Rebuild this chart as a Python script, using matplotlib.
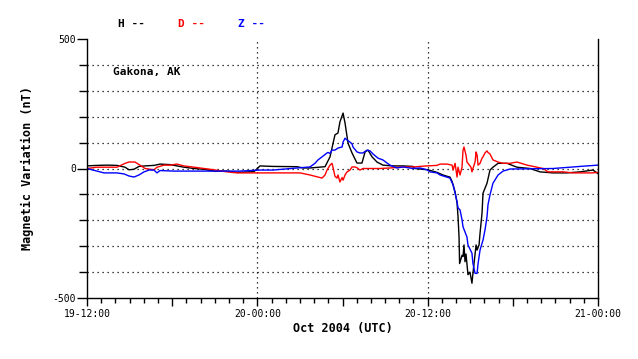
import matplotlib
matplotlib.use("Agg")
import matplotlib.pyplot as plt
from matplotlib.ticker import MultipleLocator

# hours since Oct 19 12:00 UTC, values in nT
h_time = [0, 0.70, 1.41, 2.11, 2.68, 2.96, 3.31, 3.66, 4.09, 4.72, 5.14, 5.85, 6.83, 7.54,
          8.24, 8.95, 9.86, 10.57, 11.77, 12.19, 13.10, 14.80, 15.22, 15.71, 16.77, 17.12,
          17.47, 17.68, 17.82, 18.04, 18.18, 18.39, 18.67, 19.02, 19.37, 19.59, 19.80, 20.08,
          20.43, 20.85, 21.50, 22.26, 22.97, 23.10, 23.46, 24.02, 24.66, 25.08, 25.36, 25.57,
          25.72, 25.93, 26.07, 26.14, 26.21, 26.25, 26.42, 26.49, 26.56, 26.63, 26.70, 26.84,
          26.98, 27.12, 27.19, 27.30, 27.41, 27.48, 27.62, 27.69, 27.83, 27.90, 28.18, 28.39,
          28.60, 28.96, 29.59, 30.29, 31.21, 31.91, 32.83, 33.82, 34.73, 35.65, 36.0]
h_vals = [10, 12, 13, 12, 5, -5, -3, 8, 10, 12, 17, 15, 5, 0,
          -3, -10, -10, -15, -12, 10, 8, 7, 2, 2, 7, 45,
          130, 137, 180, 214, 175, 98, 60, 21, 21, 64, 71, 45,
          25, 13, 10, 10, 8, 0, -2, -5, -15, -25, -30, -33,
          -50, -90, -133, -187, -265, -367, -335, -340, -295, -360, -330, -410,
          -400, -443, -405, -350, -295, -315, -295, -250, -172, -95, -57, -6,
          5, 20, 20, 5, 0, -13, -17, -17, -13, -6, -20]

d_time = [0, 0.70, 2.11, 2.68, 2.96, 3.38, 3.73, 4.09, 4.72, 4.93, 5.42, 5.85, 6.34, 6.83,
          7.54, 8.24, 8.95, 9.86, 10.57, 11.77, 12.68, 15.01, 15.71, 16.27, 16.56, 16.77,
          16.91, 17.12, 17.26, 17.33, 17.47, 17.61, 17.68, 17.82, 17.97, 18.04, 18.18, 18.32,
          18.53, 18.67, 18.88, 19.02, 19.23, 19.44, 20.64, 21.35, 22.26, 22.97, 23.95, 24.66,
          24.87, 25.36, 25.72, 25.79, 25.93, 26.07, 26.14, 26.28, 26.42, 26.49, 26.56, 26.70,
          26.77, 27.05, 27.12, 27.19, 27.34, 27.41, 27.48, 27.55, 27.69, 27.83, 27.90, 28.04,
          28.18, 28.25, 28.39, 28.60, 28.96, 29.31, 29.80, 30.29, 31.00, 31.70, 32.13, 32.48,
          32.83, 33.54, 34.24, 34.94, 35.58, 36.0]
d_vals = [0, 5, 5, 20, 25, 25, 13, 0, -5, 5, 13, 13, 17, 10,
          5, 0, -5, -13, -17, -17, -17, -17, -25, -33, -37, -25,
          -6, 13, 20, 5, -30, -37, -25, -52, -35, -45, -25, -13,
          -6, 6, 6, 3, -6, 0, 0, 2, 6, 6, 10, 12,
          17, 17, 13, -6, 20, -33, 5, -25, 5, 70, 83, 52,
          25, 5, -13, 0, 25, 64, 52, 13, 20, 40, 45, 60,
          68, 62, 56, 33, 25, 20, 20, 25, 13, 5, 0, -13,
          -13, -13, -17, -17, -17, -15]

z_time = [0, 0.70, 1.20, 2.11, 2.61, 2.96, 3.31, 3.66, 4.02, 4.37, 4.72, 4.93, 5.14, 6.13,
          9.37, 10.78, 12.19, 13.10, 14.80, 15.71, 16.06, 16.27, 16.56, 16.91, 16.98, 17.12,
          17.26, 17.47, 17.68, 17.97, 18.04, 18.18, 18.32, 18.53, 18.67, 18.74, 19.02, 19.23,
          19.44, 19.73, 19.94, 20.15, 20.50, 20.85, 21.14, 21.35, 21.84, 22.26, 22.97, 23.46,
          23.95, 24.17, 24.66, 24.87, 25.57, 25.79, 25.93, 26.07, 26.14, 26.28, 26.42, 26.49,
          26.77, 26.84, 27.12, 27.19, 27.34, 27.48, 27.55, 27.69, 27.90, 28.04, 28.18, 28.25,
          28.39, 28.60, 28.96, 29.31, 29.80, 32.83, 34.03, 35.22, 36.0]
z_vals = [0, -10, -17, -17, -21, -29, -33, -25, -13, -6, -6, -17, -8, -10,
          -10, -10, -6, -6, 2, 6, 20, 33, 45, 60, 62, 58,
          71, 71, 79, 83, 102, 117, 110, 102, 95, 83, 64, 60,
          60, 71, 68, 56, 40, 33, 21, 13, 2, 6, 0, 2,
          -5, -13, -17, -25, -37, -63, -95, -128, -152, -160, -198, -225,
          -265, -295, -327, -367, -405, -405, -367, -315, -276, -237, -187, -140,
          -102, -57, -25, -10, -2, 0, 5, 10, 13]

tick_hours = [0, 6, 12, 18, 24, 30, 36]
tick_labels = ["19-12:00", "", "20-00:00", "", "20-12:00", "", "21-00:00"]

plt.rcParams["font.family"] = "DejaVu Sans Mono"

fig = plt.figure(figsize=(6.38, 3.59), dpi=100)
ax = fig.add_axes([87 / 638, 1 - 298 / 359, 511 / 638, 259 / 359])

ax.plot(h_time, h_vals, color="black", lw=1)
ax.plot(d_time, d_vals, color="red", lw=1)
ax.plot(z_time, z_vals, color="blue", lw=1)

ax.set_xlim(0, 36)
ax.set_ylim(-500, 500)

for yv in range(-400, 500, 100):
    ax.axhline(yv, color="black", lw=0.9, ls=(0, (1, 3)), zorder=0)
for xv in [12, 24]:
    ax.axvline(xv, color="black", lw=0.9, ls=(0, (1, 3)), zorder=0)

ax.set_xticks(tick_hours, tick_labels)
ax.xaxis.set_minor_locator(MultipleLocator(1))
ax.set_yticks([-500, 0, 500], ["-500", "0", "500"])
ax.yaxis.set_minor_locator(MultipleLocator(100))
ax.tick_params(axis="x", which="major", length=6, width=1, labelsize=7, pad=2)
ax.tick_params(axis="x", which="minor", length=3.6, width=1)
ax.tick_params(axis="y", which="major", length=7, width=1, labelsize=7, pad=1)
ax.tick_params(axis="y", which="minor", length=5.8, width=1)

ax.spines["top"].set_visible(False)
for s in ["left", "right", "bottom"]:
    ax.spines[s].set_linewidth(1)

ax.set_xlabel("Oct 2004 (UTC)", fontsize=8.5, fontweight="bold", labelpad=2)
ax.set_ylabel("Magnetic Variation (nT)", fontsize=8.5, fontweight="bold", labelpad=13)

ax.text((113 - 87) / 511, (298 - 72) / 259, "Gakona, AK", transform=ax.transAxes,
        fontsize=8, fontweight="bold", va="center", ha="left")

fig.text(118 / 638, 1 - 24 / 359, "H --", color="black", fontsize=8, fontweight="bold", va="center")
fig.text(178 / 638, 1 - 24 / 359, "D --", color="red", fontsize=8, fontweight="bold", va="center")
fig.text(238 / 638, 1 - 24 / 359, "Z --", color="blue", fontsize=8, fontweight="bold", va="center")

plt.savefig("out.png", dpi=100)
